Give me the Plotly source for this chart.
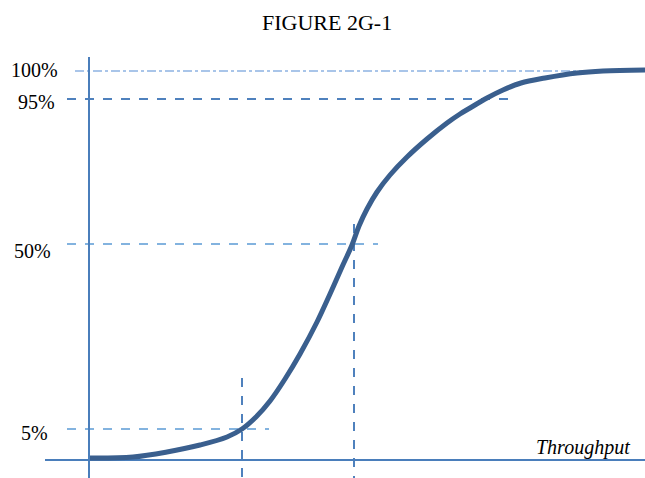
import plotly.graph_objects as go

# Chart units: x = throughput position, y = level position (top = 0, bottom = 478)
curve_x = [90, 133, 167, 200, 227, 242, 256, 270, 285, 300, 317, 330, 342, 352, 359, 367, 377, 390, 407, 427, 447, 460, 470, 487, 503, 521, 545, 577, 603, 645]
curve_y = [458, 457, 452, 445, 437, 429, 417, 401, 379, 354, 322, 294, 267, 245, 226, 209, 192, 175, 157, 139, 123, 114, 108, 98, 90, 83, 78, 73, 71, 70]

tick_labels = ["100%", "95%", "50%", "5%"]
tick_pos = [70, 102, 251, 433]
tick_x = [34, 36, 32, 34]

# guide lines: level lines (x0, x1, y)
h_x0 = [75, 67, 67, 67]
h_x1 = [645, 511, 378, 269]
h_y = [71, 99, 244, 429]
h_dash = ["dashdot", "dash", "dash", "dash"]
h_color = ["#8db3e2", "#4f81bd", "#5b9bd5", "#5b9bd5"]
h_width = [1.4, 2.0, 1.5, 1.5]

# vertical guides (x, y0, y1)
v_x = [242, 354]
v_y0 = [378, 224]
v_y1 = [478, 478]

axis_x_line = [45, 645]
axis_x_y = 460
axis_y_line = [57, 478]
axis_y_x = 89

fig = go.Figure()

for x0, x1, y, d, c, w in zip(h_x0, h_x1, h_y, h_dash, h_color, h_width):
    fig.add_trace(go.Scatter(x=[x0, x1], y=[y, y], mode="lines",
                             line=dict(color=c, width=w, dash=d), hoverinfo="skip"))
for x, y0, y1 in zip(v_x, v_y0, v_y1):
    fig.add_trace(go.Scatter(x=[x, x], y=[y0, y1], mode="lines",
                             line=dict(color="#4f81bd", width=2, dash="dash"), hoverinfo="skip"))

fig.add_trace(go.Scatter(x=axis_x_line, y=[axis_x_y, axis_x_y], mode="lines",
                         line=dict(color="#4a7ebb", width=2), hoverinfo="skip"))
fig.add_trace(go.Scatter(x=[axis_y_x, axis_y_x], y=axis_y_line, mode="lines",
                         line=dict(color="#4a7ebb", width=2), hoverinfo="skip"))

fig.add_trace(go.Scatter(x=curve_x, y=curve_y, mode="lines",
                         line=dict(color="#3a5f8e", width=5, shape="spline", smoothing=1.0),
                         hoverinfo="skip"))

for lab, y, x in zip(tick_labels, tick_pos, tick_x):
    fig.add_annotation(x=x, y=y, text=lab, showarrow=False, xanchor="center", yanchor="middle",
                       font=dict(family="Liberation Serif", size=20, color="black"))

fig.add_annotation(x=632, y=447, text="<i>Throughput</i>", showarrow=False, xanchor="right", yanchor="middle",
                   font=dict(family="Liberation Serif", size=20, color="black"))
fig.add_annotation(x=327, y=22, text="FIGURE 2G-1", showarrow=False, xanchor="center", yanchor="middle",
                   font=dict(family="Liberation Serif", size=22, color="black"))

fig.update_layout(width=645, height=478, margin=dict(l=0, r=0, t=0, b=0),
                  showlegend=False, plot_bgcolor="white", paper_bgcolor="white",
                  xaxis=dict(range=[0, 645], visible=False),
                  yaxis=dict(range=[478, 0], visible=False))

fig.write_html("out.html", config={"displayModeBar": False},
               post_script="document.body.style.margin='0';document.body.style.padding='0';")
